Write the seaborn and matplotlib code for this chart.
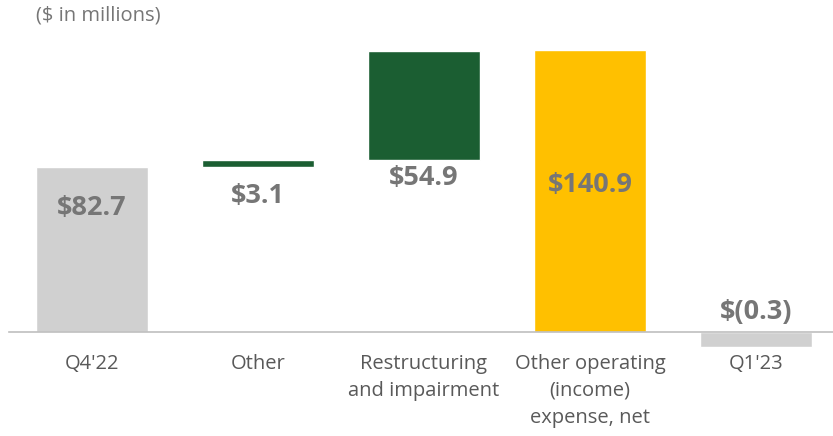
import numpy as np
import pandas as pd
import seaborn as sns
import matplotlib.pyplot as plt

# Datos del puente (waterfall)
categorias = ["Q4'22", "Other", "Restructuring\nand impairment",
              "Other operating\n(income)\nexpense, net", "Q1'23"]
valores = [82.7, 3.1, 54.9, 140.9, -0.3]
tipo = ["total", "delta", "delta", "total", "total"]
etiquetas = ["$82.7", "$3.1", "$54.9", "$140.9", "$(0.3)"]
colores = ["#d0d0d0", "#1b5e32", "#1b5e32", "#ffc000", "#d0d0d0"]

sns.set_theme(style="white")
plt.rcParams["font.family"] = ["Open Sans", "DejaVu Sans"]

# bases y alturas
bases, alturas = [], []
acum = 0.0
for v, t in zip(valores, tipo):
    if t == "delta":
        bases.append(acum)
        alturas.append(v)
        acum += v
    else:
        bases.append(0.0)
        # barra minima visible como en el original
        alturas.append(np.sign(v) * max(abs(v), 7.5))
        acum = v

fig = plt.figure(figsize=(8.33, 4.36), dpi=100)
ax = fig.add_axes([9 / 833, 86 / 436, 830 / 833, 310 / 436])

for i, cat in enumerate(categorias):
    sns.barplot(x=[cat], y=[alturas[i]], bottom=bases[i], order=categorias,
                color=colores[i], width=0.675, saturation=1, ax=ax)

# etiquetas de valor (posicion vertical en datos)
pos_etiqueta = [62, 68, 77, 73.5, 10]
for i, txt in enumerate(etiquetas):
    ax.text(i, pos_etiqueta[i], txt, ha="center", va="center",
            fontsize=19.5, fontweight="bold", color="#767676")

ax.set_xlim(-0.5, 4.5)
ax.set_ylim(-9, 146)
ax.set_xlabel("")
ax.set_ylabel("")
ax.set_yticks([])
for s in ["top", "right", "left"]:
    ax.spines[s].set_visible(False)
ax.spines["bottom"].set_position(("data", 0))
ax.spines["bottom"].set_color("#bfbfbf")
ax.spines["bottom"].set_linewidth(1.2)

ax.set_xticks(range(len(categorias)))
ax.set_xticklabels(categorias, fontsize=14.5, color="#595959", linespacing=1.45)
ax.tick_params(axis="x", which="major", length=0, pad=16)
ax.set_xticks(np.arange(-0.5, 5, 1), minor=True)
ax.tick_params(axis="x", which="minor", length=6, width=1.2, color="#bfbfbf",
               direction="out")

fig.text(36 / 833, 1 - 16 / 436, "($ in millions)", ha="left", va="center",
         fontsize=14.5, color="#767676")

fig.savefig("out.png", dpi=100)
